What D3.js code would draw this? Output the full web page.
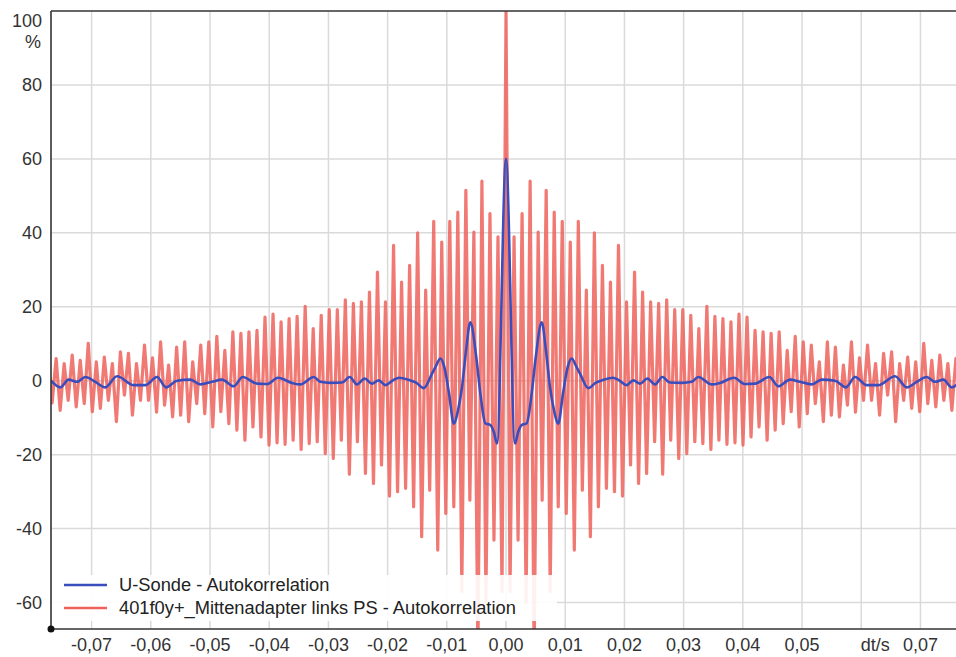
<!DOCTYPE html>
<html>
<head>
<meta charset="utf-8">
<script src="https://cdn.jsdelivr.net/npm/d3@7"></script>
<style>
  html, body { margin: 0; padding: 0; background: #fff; }
  svg { display: block; font-family: "Liberation Sans", Arial, sans-serif; }
</style>
</head>
<body>
<svg id="chart" width="956" height="657"></svg>
<script>
// ---------------- data ----------------
// Autocorrelation is symmetric in dt; one side is read from the chart and mirrored.
const redPeriod = 0.001357;          // s, spacing of the red oscillation peaks
const redCenter = 100;               // % at dt = 0
// peak values at dt = m * period, m = 1..57
const redPeaks = [38.9, 45.2, 54.0, 40.2, 51.5, 45.6, 43.1, 37.5, 43.1, 24.5,
  40.0, 31.2, 26.7, 36.6, 21.3, 29.4, 24.0, 21.3, 20.9, 21.9,
  19.2, 19.2, 17.7, 14.1, 20.1, 17.4, 16.8, 15.9, 18.0, 17.2,
  13.6, 13.2, 12.8, 13.2, 8.2, 12.0, 10.5, 9.6, 5.1, 10.5,
  9.1, 4.2, 10.5, 6.2, 9.6, 4.6, 7.4, 7.8, 4.6, 6.4,
  5.1, 10.1, 5.5, 6.9, 4.6, 6.0, 5.0];
// trough values at dt = (m + 0.5) * period, m = 0..56
const redTroughs = [-57, -43.1, -60, -75, -32.3, -57, -34.1, -35.9, -45.8, -29.6,
  -42.2, -34.1, -29.1, -30.0, -31.2, -22.8, -27.8, -25.1, -16.5, -25.3,
  -16.1, -21.0, -19.7, -16.5, -17.0, -18.6, -16.1, -17.2, -16.8, -17.4,
  -15.2, -12.5, -16.1, -13.4, -11.6, -8.4, -12.5, -8.9, -6.2, -11.1,
  -9.3, -9.8, -6.6, -8.5, -5.3, -5.3, -9.3, -3.9, -11.1, -5.3,
  -7.5, -8.4, -6.2, -7.1, -5.3, -8.0, -6.0];

// blue (U-Sonde) one-sided: dt in s, value in %
const blueT = [0, 0.00152, 0.00203, 0.00265, 0.0035, 0.00434, 0.00507, 0.00603, 0.00676, 0.00743,
  0.00811, 0.00883, 0.00963, 0.01047, 0.0111, 0.01182, 0.0125, 0.0139, 0.0152, 0.01622,
  0.01807, 0.01909, 0.02039, 0.0215, 0.02264, 0.02387, 0.02517, 0.0264, 0.0277, 0.02968,
  0.03137, 0.03248, 0.03475, 0.03615, 0.03851, 0.04037, 0.04206, 0.04448, 0.046, 0.04797,
  0.04966, 0.05164, 0.05333, 0.05557, 0.05743, 0.05895, 0.06093, 0.06289, 0.06571, 0.06769,
  0.06938, 0.07106, 0.07247, 0.07387, 0.07529, 0.07686];
const blueV = [60, -17, -14, -12, -11.5, -3.4, 7, 15.8, 8, -1.7,
  -8, -11.6, -3.4, 4, 6, 4, 1.9, -2, -0.5, 0.1,
  0.8, 0.1, -1.2, 0.1, -0.8, 0.6, -1, 1, -0.5, -0.6,
  -0.3, 1, -1, -0.6, 0.8, -0.9, -0.8, 1, -1.5, 0.3,
  -0.3, -1, 0.3, 0, -1.8, 1, -1.2, -1.2, 1.2, -1.8,
  -0.3, 1, -0.3, 0.3, -1.8, 0];

const xTicks = [-0.07, -0.06, -0.05, -0.04, -0.03, -0.02, -0.01, 0, 0.01, 0.02, 0.03, 0.04, 0.05, 0.06, 0.07];
const xTickLabels = ["-0,07", "-0,06", "-0,05", "-0,04", "-0,03", "-0,02", "-0,01", "0,00", "0,01", "0,02", "0,03", "0,04", "0,05", "dt/s", "0,07"];
const yTicks = [-60, -40, -20, 0, 20, 40, 60, 80, 100];
const yTickLabels = ["-60", "-40", "-20", "0", "20", "40", "60", "80", "100"];
const yUnit = "%";
const seriesNames = ["U-Sonde - Autokorrelation", "401f0y+_Mittenadapter links PS - Autokorrelation"];
const seriesColors = ["#3a4dbd", "#ef625b"];
const xDomain = [-0.07686, 0.07601];
const yDomain = [-67.16, 100];

// ---------------- build series ----------------
const redData = [];
for (let m = redPeaks.length; m >= 1; m--) {
  redData.push([-(m) * redPeriod, redPeaks[m - 1]]);
  redData.push([-(m - 0.5) * redPeriod, redTroughs[m - 1]]);
}
redData.push([0, redCenter]);
for (let m = 1; m <= redPeaks.length; m++) {
  redData.push([(m - 0.5) * redPeriod, redTroughs[m - 1]]);
  redData.push([m * redPeriod, redPeaks[m - 1]]);
}
const blueData = [];
for (let i = blueT.length - 1; i >= 1; i--) blueData.push([-blueT[i], blueV[i]]);
for (let i = 0; i < blueT.length; i++) blueData.push([blueT[i], blueV[i]]);

// ---------------- chart ----------------
const svg = d3.select("#chart");
const L = 51, R = 956, T = 11, B = 629;
const x = d3.scaleLinear().domain(xDomain).range([L, R]);
const y = d3.scaleLinear().domain(yDomain).range([B, T]);

svg.append("defs").append("clipPath").attr("id", "plotclip")
  .append("rect").attr("x", L).attr("y", T).attr("width", R - L).attr("height", B - T);

// grid
const grid = svg.append("g").attr("stroke", "#dadada").attr("stroke-width", 1.5);
grid.selectAll("line.v").data(xTicks).join("line")
  .attr("x1", d => x(d)).attr("x2", d => x(d)).attr("y1", T).attr("y2", B);
grid.selectAll("line.h").data(yTicks.filter(v => v < 100)).join("line")
  .attr("x1", L).attr("x2", R).attr("y1", d => y(d)).attr("y2", d => y(d));

// series
const plot = svg.append("g").attr("clip-path", "url(#plotclip)");
const line = d3.line().x(d => x(d[0])).y(d => y(d[1]));
plot.append("path").datum(redData)
  .attr("fill", "none").attr("stroke", seriesColors[1]).attr("stroke-width", 3.2)
  .attr("stroke-opacity", 0.85).attr("stroke-linejoin", "round").attr("stroke-linecap", "round")
  .attr("d", line);
plot.append("path").datum(blueData)
  .attr("fill", "none").attr("stroke", seriesColors[0]).attr("stroke-width", 2.6)
  .attr("stroke-linejoin", "round")
  .attr("d", d3.line().x(d => x(d[0])).y(d => y(d[1])).curve(d3.curveMonotoneX));

// legend
const lg = svg.append("g");
lg.append("rect").attr("x", L + 1).attr("y", 575).attr("width", 505).attr("height", 46)
  .attr("fill", "#fff").attr("fill-opacity", 0.9);
seriesNames.forEach((name, i) => {
  const yy = 585 + i * 23;
  lg.append("line").attr("x1", 64).attr("x2", 107).attr("y1", yy).attr("y2", yy)
    .attr("stroke", seriesColors[i]).attr("stroke-width", 2.4);
  lg.append("text").attr("x", 119).attr("y", yy).attr("dy", "0.35em")
    .attr("font-size", 18.3).attr("fill", "#222").text(name);
});

// axes
const axes = svg.append("g").attr("stroke", "#333").attr("stroke-width", 1.6);
axes.append("line").attr("x1", L).attr("x2", R).attr("y1", T).attr("y2", T);
axes.append("line").attr("x1", L).attr("x2", L).attr("y1", T).attr("y2", B);
axes.append("line").attr("x1", L).attr("x2", R).attr("y1", B).attr("y2", B);
svg.append("circle").attr("cx", L).attr("cy", B).attr("r", 3.5).attr("fill", "#111");

// tick labels
svg.append("g").selectAll("text").data(xTicks).join("text")
  .attr("x", (d, i) => x(d) + (xTickLabels[i] === "dt/s" ? 14 : 0))
  .attr("y", 651).attr("text-anchor", "middle")
  .attr("font-size", 18).attr("fill", "#333")
  .text((d, i) => xTickLabels[i]);
svg.append("g").selectAll("text").data(yTicks).join("text")
  .attr("x", 42)
  .attr("y", d => d === 100 ? y(d) + 10 : y(d)).attr("dy", "0.35em")
  .attr("text-anchor", "end").attr("font-size", 18).attr("fill", "#333")
  .text((d, i) => yTickLabels[i]);
svg.append("text").attr("x", 41).attr("y", y(100) + 31).attr("dy", "0.35em")
  .attr("text-anchor", "end").attr("font-size", 18).attr("fill", "#333").text(yUnit);
</script>
</body>
</html>
